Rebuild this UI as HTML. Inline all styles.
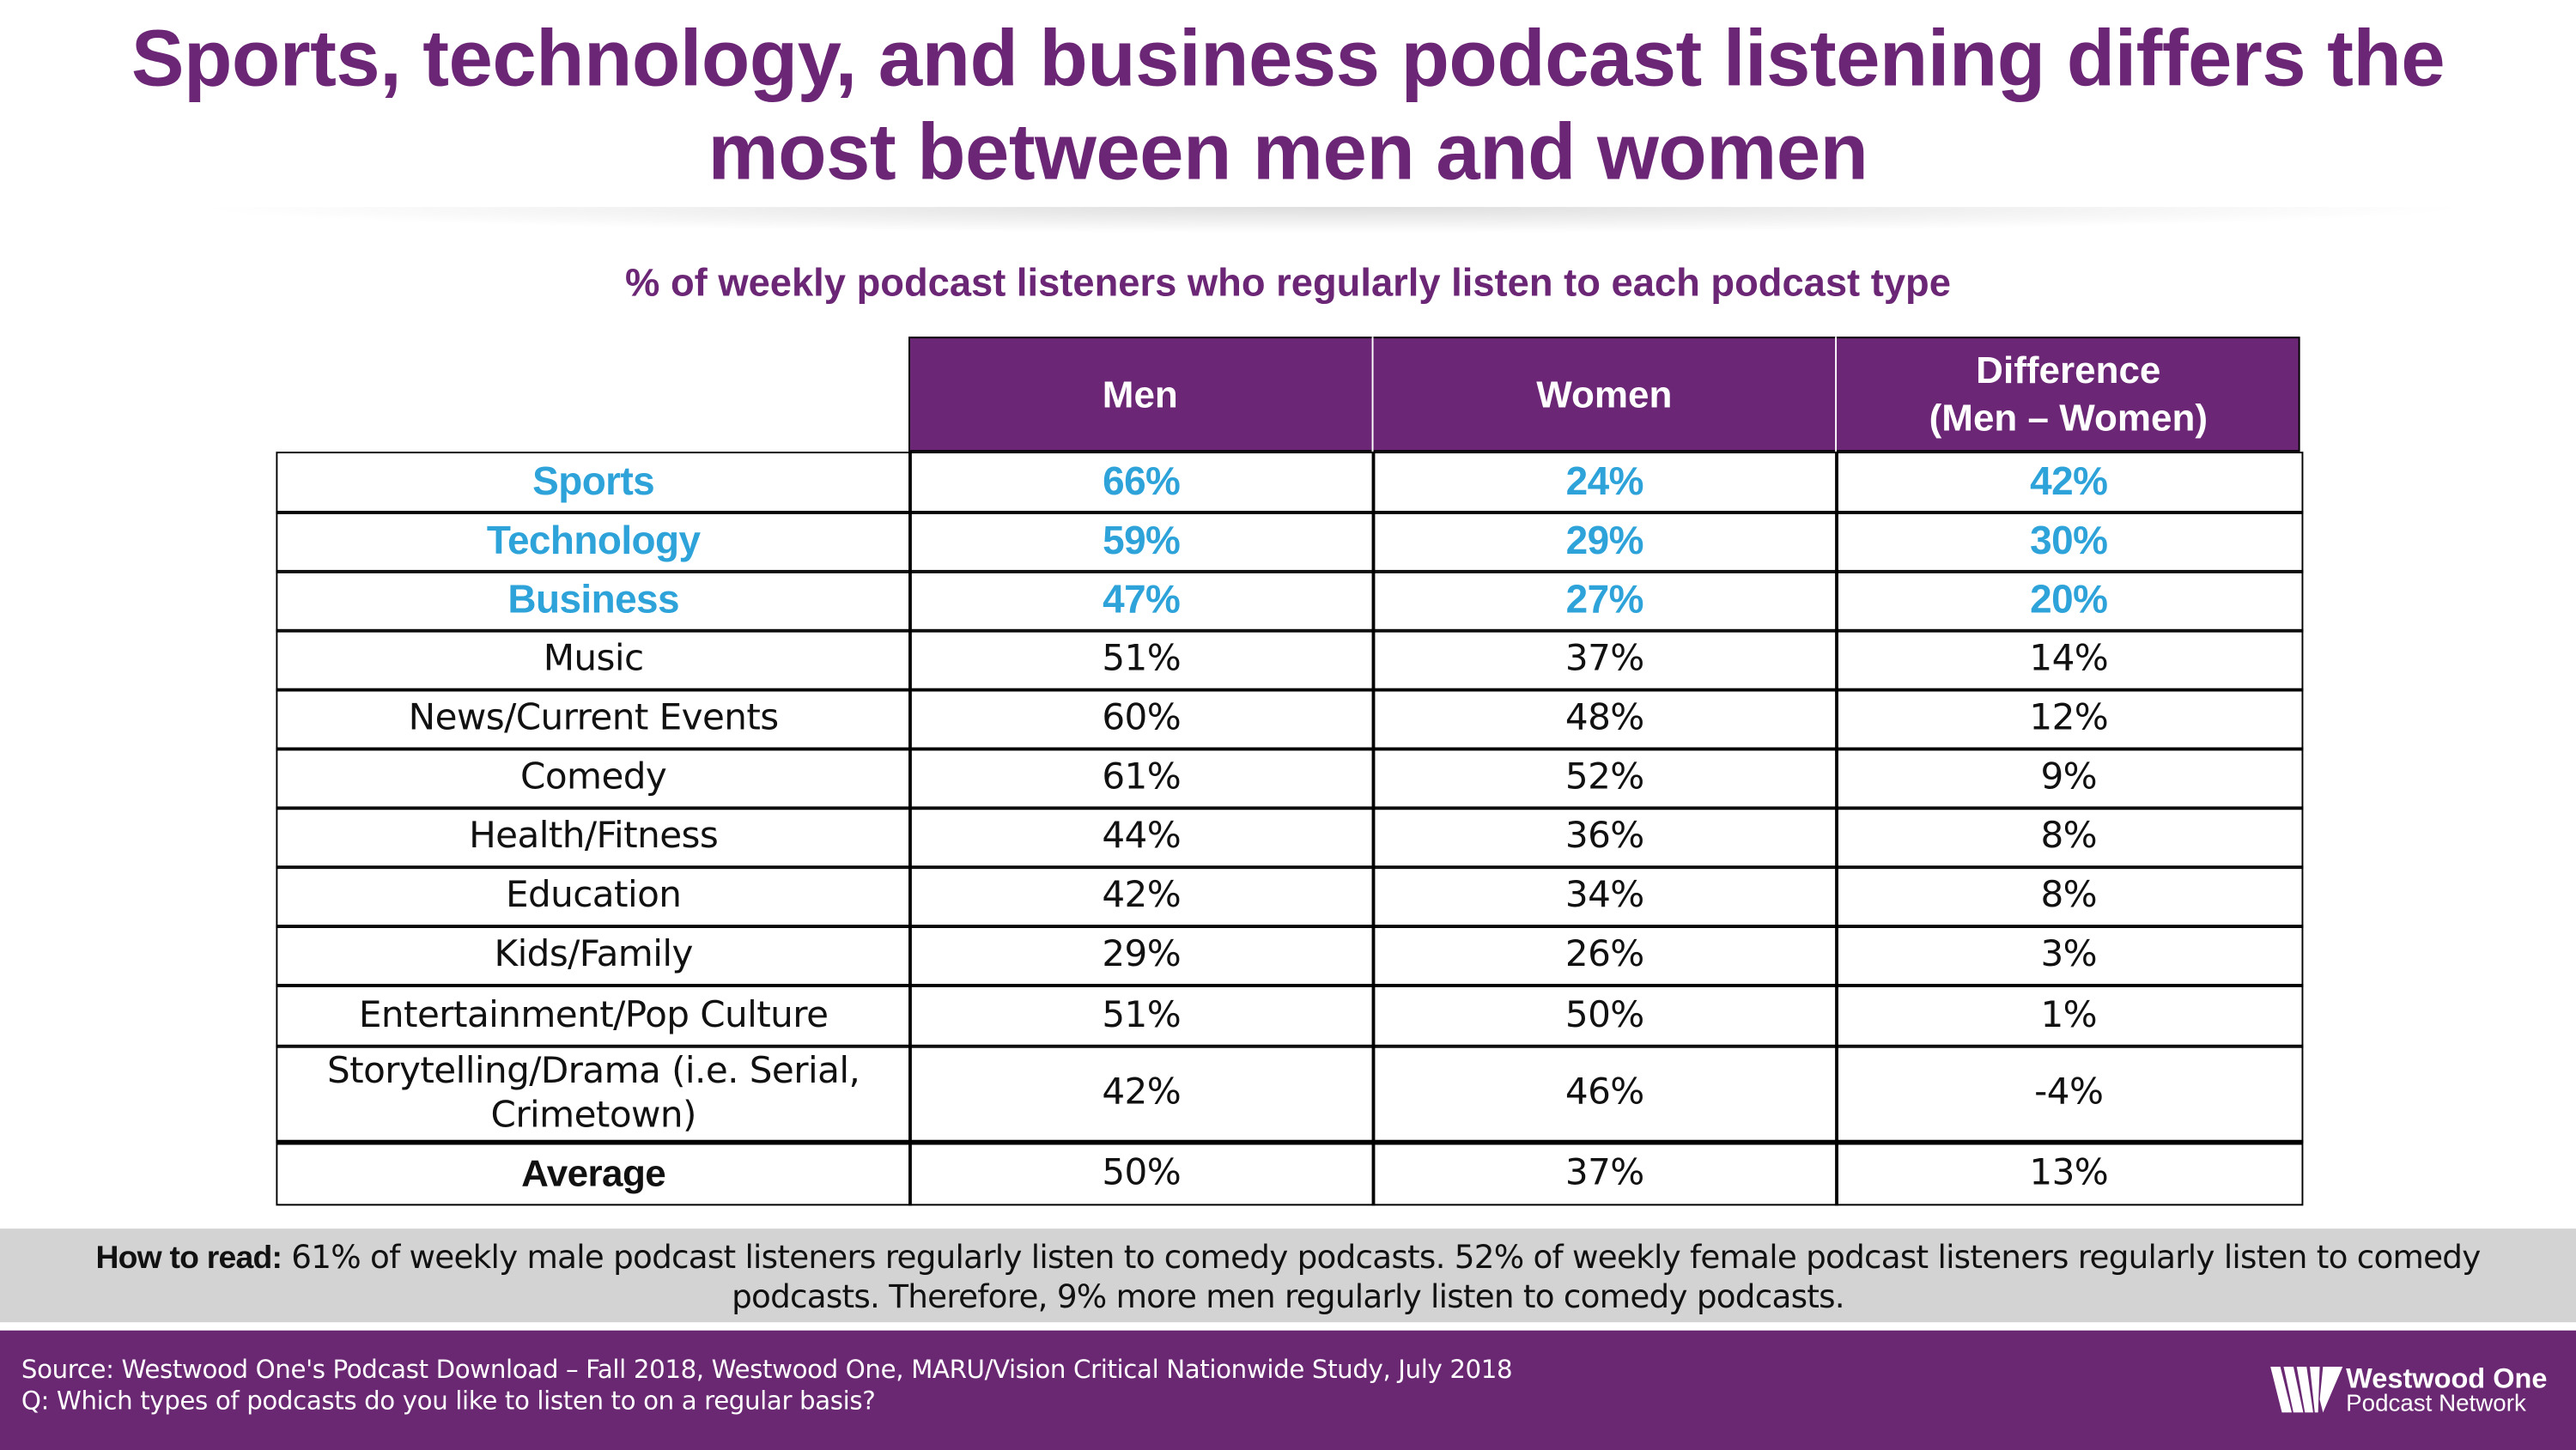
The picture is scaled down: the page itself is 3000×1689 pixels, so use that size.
<!DOCTYPE html>
<html><head><meta charset="utf-8">
<style>
html,body{margin:0;padding:0;width:3000px;height:1688px;overflow:hidden;background:#fff}
#stage{position:absolute;left:0;top:0;width:1568px;height:882.3px;transform:scale(1.91327);transform-origin:0 0;font-family:"Liberation Sans","DejaVu Sans",sans-serif}
.abs{position:absolute}
#title{left:0;top:8px;width:1568px;text-align:center;color:#6B2775;font-weight:bold;font-size:48.3px;line-height:57px;letter-spacing:-0.3px}
#shadow{left:110px;top:126px;width:1400px;height:16px;background:radial-gradient(ellipse at center top,rgba(0,0,0,0.13),rgba(0,0,0,0) 70%)}
#subtitle{left:0;top:160px;width:1568px;text-align:center;color:#6B2775;font-weight:bold;font-size:23.7px}
.hdr{background:#6B2775;color:#fff;font-weight:bold;font-size:23px;text-align:center;display:flex;align-items:center;justify-content:center;line-height:29px;box-sizing:border-box}
.cell{box-sizing:border-box;border:1.5px solid #000;display:flex;align-items:center;justify-content:center;text-align:center;font-family:"DejaVu Sans","Liberation Sans",sans-serif;font-size:22px;color:#111;line-height:27px;letter-spacing:-0.3px}
.hl{color:#2DA3DA;font-weight:bold;font-family:"Liberation Sans",sans-serif;font-size:24px}
#howto{left:0;top:748px;width:1568px;height:57px;background:#D3D3D3;text-align:center;font-family:"DejaVu Sans",sans-serif;font-size:19.5px;line-height:23px;color:#111;box-sizing:border-box;padding:6px 40px 0;letter-spacing:-0.4px}
#footer{left:0;top:810px;width:1568px;height:73px;background:#6A2873}
#src{left:13px;top:825px;color:#fff;font-family:"DejaVu Sans",sans-serif;font-size:15.3px;line-height:19px;letter-spacing:-0.2px}
</style></head><body>
<div id="stage">
<div id="title" class="abs">Sports, technology, and business podcast listening differs the<br>most between men and women</div>
<div id="shadow" class="abs"></div>
<div id="subtitle" class="abs">% of weekly podcast listeners who regularly listen to each podcast type</div>
<div class="abs hdr" style="left:553px;top:205px;width:847px;height:70px;border:1.5px solid #000"></div>
<div class="abs hdr" style="left:553px;top:205px;width:282px;height:70px;background:transparent">Men</div>
<div class="abs hdr" style="left:835px;top:205px;width:282px;height:70px;background:transparent;border-left:1px solid #fff">Women</div>
<div class="abs hdr" style="left:1117px;top:205px;width:283px;height:70px;background:transparent;border-left:1px solid #fff">Difference<br>(Men – Women)</div>
<div id="rows"></div>
<div id="howto" class="abs"><b style="font-family:'Liberation Sans',sans-serif">How to read:</b> 61% of weekly male podcast listeners regularly listen to comedy podcasts. 52% of weekly female podcast listeners regularly listen to comedy podcasts. Therefore, 9% more men regularly listen to comedy podcasts.</div>
<div id="footer" class="abs"></div>
<div id="src" class="abs">Source: Westwood One's Podcast Download – Fall 2018, Westwood One, MARU/Vision Critical Nationwide Study, July 2018<br>Q: Which types of podcasts do you like to listen to on a regular basis?</div>
<div class="abs" style="left:1382px;top:832px;width:180px;height:30px">
<svg width="44" height="28" viewBox="0 0 44 28" style="position:absolute;left:0;top:0">
<g fill="#fff"><polygon points="0,0 6,0 13,28 7,28"/><polygon points="8,0 14,0 20,28 14,28"/><polygon points="16,0 22,0 26,28 21,28"/><polygon points="24,0 30,0 29,28 27,28"/><polygon points="32,0 44,0 32,28 30,20"/></g></svg>
<div style="position:absolute;left:46px;top:-2px;color:#fff;font-weight:bold;font-size:17px;white-space:nowrap">Westwood One</div>
<div style="position:absolute;left:46px;top:15px;color:#fff;font-size:14.5px;white-space:nowrap">Podcast Network</div>
</div>
</div>
<script>
const categories=["Sports","Technology","Business","Music","News/Current Events","Comedy","Health/Fitness","Education","Kids/Family","Entertainment/Pop Culture","Storytelling/Drama (i.e. Serial, Crimetown)","Average"];
const menValues=["66%","59%","47%","51%","60%","61%","44%","42%","29%","51%","42%","50%"];
const womenValues=["24%","29%","27%","37%","48%","52%","36%","34%","26%","50%","46%","37%"];
const diffValues=["42%","30%","20%","14%","12%","9%","8%","8%","3%","1%","-4%","13%"];
const highlightCount=3;
const bounds=[275,311,347,383,419,455,491,527,563,599,636,694,732];
const cols=[168,553,835,1117,1400];
const stage=document.getElementById('stage');
function mk(x,y,w,h,txt,cls){const d=document.createElement('div');d.className='abs cell '+cls;d.style.left=x+'px';d.style.top=y+'px';d.style.width=w+'px';d.style.height=h+'px';d.textContent=txt;stage.appendChild(d);return d;}
categories.forEach((c,i)=>{
  const y=bounds[i],h=bounds[i+1]-bounds[i]+1.5;
  const cls=i<highlightCount?'hl':'';
  const vals=[c,menValues[i],womenValues[i],diffValues[i]];
  vals.forEach((v,j)=>{
    const d=mk(cols[j],y,cols[j+1]-cols[j]+1.5,h,v,cls);
    if(i===categories.length-1){d.style.borderTop='3px solid #000';if(j===0){d.style.fontWeight='bold';d.style.fontFamily='"Liberation Sans",sans-serif';d.style.fontSize='23px';}}
    if(j===0){}
    else {}
    
  });
});
</script>
</body></html>
